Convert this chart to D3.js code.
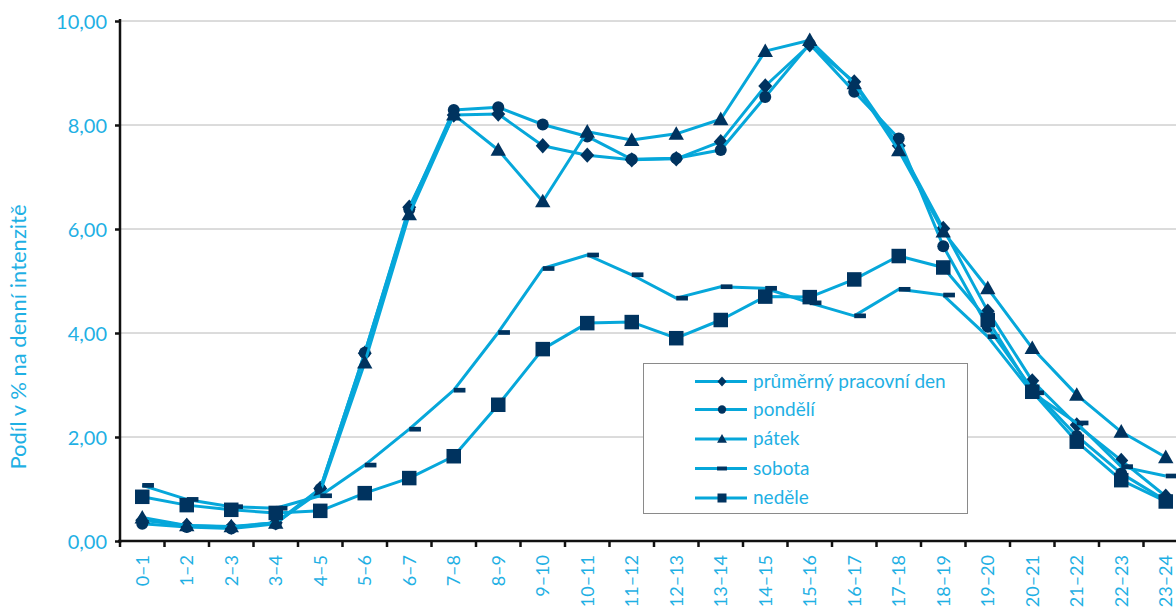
<!DOCTYPE html>
<html><head><meta charset="utf-8">
<script src="https://cdn.jsdelivr.net/npm/d3@7"></script>
<style>
html,body{margin:0;padding:0;background:#fff;}
svg{display:block;}
text{font-family:Lato,"Open Sans",sans-serif;fill:#1fb0e4;}
</style></head>
<body><svg id="c" width="1176" height="612"></svg>
<script>
const categories = ["0–1","1–2","2–3","3–4","4–5","5–6","6–7","7–8","8–9","9–10","10–11","11–12","12–13","13–14","14–15","15–16","16–17","17–18","18–19","19–20","20–21","21–22","22–23","23–24"];
const seriesNames = ["průměrný pracovní den","pondělí","pátek","sobota","neděle"];
const prumerny = [0.40,0.30,0.27,0.35,1.01,3.61,6.42,8.19,8.21,7.60,7.42,7.33,7.35,7.68,8.75,9.54,8.83,7.60,6.01,4.42,3.08,2.23,1.55,0.86];
const pondeli  = [0.33,0.27,0.24,0.33,1.00,3.62,6.38,8.29,8.34,8.01,7.78,7.34,7.36,7.52,8.54,9.56,8.64,7.74,5.67,4.12,2.92,2.02,1.30,0.78];
const patek    = [0.45,0.30,0.28,0.35,0.95,3.43,6.28,8.20,7.52,6.53,7.87,7.71,7.83,8.11,9.42,9.63,8.80,7.51,5.95,4.86,3.71,2.81,2.10,1.61];
const sobota   = [1.07,0.80,0.66,0.63,0.87,1.46,2.15,2.90,4.01,5.24,5.50,5.12,4.67,4.89,4.86,4.58,4.33,4.84,4.73,3.93,2.85,2.27,1.43,1.25];
const nedele   = [0.85,0.69,0.60,0.54,0.58,0.92,1.21,1.63,2.62,3.69,4.19,4.21,3.90,4.25,4.70,4.69,5.03,5.48,5.26,4.25,2.87,1.91,1.17,0.76];
const yTicks = [0,2,4,6,8,10];
const yTickLabels = ["0,00","2,00","4,00","6,00","8,00","10,00"];

const markers = ["diamond","circle","triangle","dash","square"];
const allSeries = [prumerny,pondeli,patek,sobota,nedele];

const LINE = "#06a7da", MARK = "#00335f", TXT = "#1fb0e4";
const svg = d3.select("#c");
const x = d3.scaleBand().domain(categories).range([120, 120 + 24*44.5]).paddingInner(0).paddingOuter(0);
const y = d3.scaleLinear().domain([0,10]).range([541, 21]);
const cx = d => x(d) + x.bandwidth()/2;

// gridlines
svg.append("g").selectAll("line").data(yTicks.filter(d=>d>0)).join("line")
  .attr("x1",120).attr("x2",1176).attr("y1",d=>y(d)).attr("y2",d=>y(d))
  .attr("stroke","#b8b8b8").attr("stroke-width",1);

// y axis
const yAxis = d3.axisLeft(y).tickValues(yTicks).tickSize(5).tickFormat((d,i)=>yTickLabels[i]);
const gy = svg.append("g").attr("transform","translate(120,0)").call(yAxis);
gy.select(".domain").attr("stroke","#111").attr("stroke-width",2.5).attr("d","M0,19V543");
gy.selectAll(".tick line").attr("stroke","#111").attr("stroke-width",2.5);
gy.selectAll(".tick text").attr("x",-13).attr("dy","0.36em").attr("fill",TXT)
  .style("font-size","20px").style("font-family","Lato");

// x axis
const xAxis = d3.axisBottom(x).tickSize(0).tickFormat(d=>d);
const gx = svg.append("g").attr("transform","translate(0,541)").call(xAxis);
gx.select(".domain").attr("stroke","#111").attr("stroke-width",2.5).attr("d","M118,0H1188");
gx.selectAll(".tick text").attr("fill",TXT).style("font-size","18px").style("font-family","Lato")
  .attr("text-anchor","end").attr("y",0).attr("dy",0)
  .attr("transform","translate(6.5,14) rotate(-90)");
// boundary ticks
svg.append("g").selectAll("line").data(d3.range(0,25)).join("line")
  .attr("x1",i=>120+i*x.step()).attr("x2",i=>120+i*x.step())
  .attr("y1",541).attr("y2",547).attr("stroke","#111").attr("stroke-width",2.5);

// y title
svg.append("text").attr("transform","translate(26,337) rotate(-90)").attr("text-anchor","middle")
  .style("font-size","22px").attr("fill",TXT).text("Podíl v % na denní intenzitě");

function drawMarker(g, type, px, py, s, inLegend){
  if(type==="diamond"){
    g.append("path").attr("d",`M${px},${py-s*0.55}L${px+s*0.5},${py}L${px},${py+s*0.55}L${px-s*0.5},${py}Z`).attr("fill",MARK);
  } else if(type==="circle"){
    g.append("circle").attr("cx",px).attr("cy",py).attr("r",s*0.46).attr("fill",MARK);
  } else if(type==="triangle"){
    g.append("path").attr("d",`M${px},${py-s*0.55}L${px+s*0.55},${py+s*0.42}L${px-s*0.55},${py+s*0.42}Z`).attr("fill",MARK);
  } else if(type==="dash"){
    const w = s*0.9, h = s*0.36;
    const x0 = inLegend ? px - w/2 : px;
    g.append("rect").attr("x",x0).attr("y",py-h/2).attr("width",w).attr("height",h).attr("fill",MARK);
  } else if(type==="square"){
    g.append("rect").attr("x",px-s*0.5).attr("y",py-s*0.5).attr("width",s).attr("height",s).attr("fill",MARK);
  }
}

const line = d3.line().x((d,i)=>cx(categories[i])).y(d=>y(d));
allSeries.forEach((vals,k)=>{
  const g = svg.append("g");
  g.append("path").attr("d",line(vals)).attr("fill","none").attr("stroke",LINE).attr("stroke-width",3).attr("stroke-linejoin","round");
  const sz = [14,13,14,13,14.5][k];
  vals.forEach((v,i)=>drawMarker(g, markers[k], cx(categories[i]), y(v), sz, false));
});

// legend
const lg = svg.append("g");
lg.append("rect").attr("x",643.5).attr("y",363.5).attr("width",324).attr("height",150)
  .attr("fill","#fff").attr("stroke","#8a8a8a").attr("stroke-width",1);
const rowY = [381.5,409.5,439,468.5,498];
seriesNames.forEach((n,k)=>{
  const ry = rowY[k];
  lg.append("line").attr("x1",695).attr("x2",747).attr("y1",ry).attr("y2",ry).attr("stroke",LINE).attr("stroke-width",3);
  drawMarker(lg, markers[k], 722, ry, [9,9,9,11,9][k], true);
  lg.append("text").attr("x",753).attr("y",ry+6).style("font-size","19px").attr("fill",TXT).text(n);
});
</script></body></html>
